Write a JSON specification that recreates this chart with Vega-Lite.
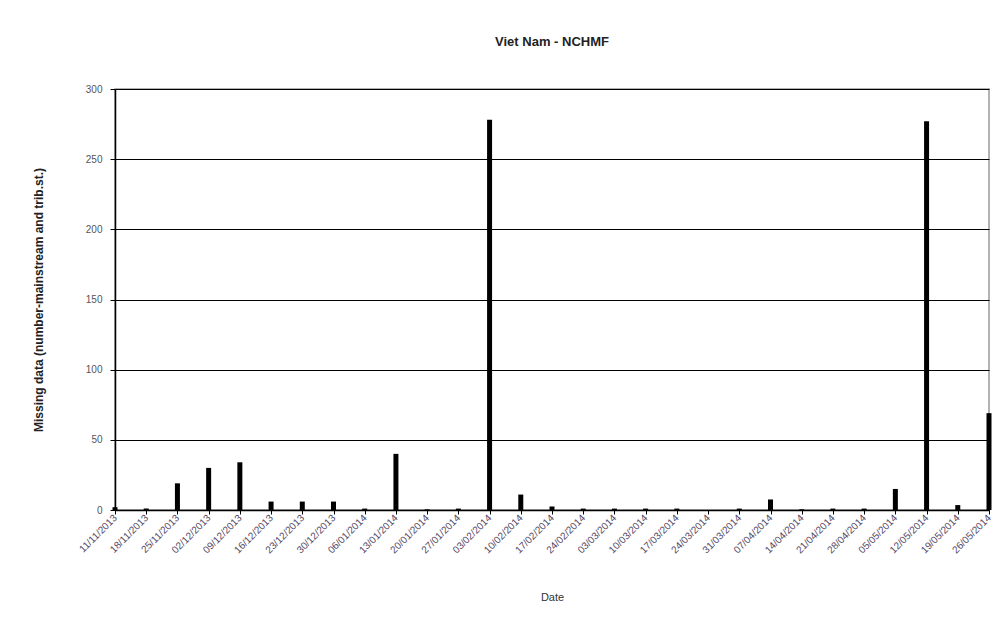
{
  "$schema": "https://vega.github.io/schema/vega-lite/v6.json",
  "autosize": "none",
  "width": 874,
  "height": 421,
  "padding": {"left": 115, "top": 89, "right": 15, "bottom": 116},
  "background": "white",
  "title": {
    "text": "Viet Nam - NCHMF",
    "font": "Liberation Sans Narrow, Liberation Sans, Arial",
    "fontSize": 13,
    "fontWeight": "bold",
    "color": "#222",
    "anchor": "middle",
    "offset": 35
  },
  "data": {
    "values": [
      {"date": "11/11/2013", "missing": 2},
      {"date": "18/11/2013", "missing": 1},
      {"date": "25/11/2013", "missing": 19},
      {"date": "02/12/2013", "missing": 30},
      {"date": "09/12/2013", "missing": 34},
      {"date": "16/12/2013", "missing": 6},
      {"date": "23/12/2013", "missing": 6},
      {"date": "30/12/2013", "missing": 6},
      {"date": "06/01/2014", "missing": 1},
      {"date": "13/01/2014", "missing": 40},
      {"date": "20/01/2014", "missing": 0.5},
      {"date": "27/01/2014", "missing": 1},
      {"date": "03/02/2014", "missing": 278},
      {"date": "10/02/2014", "missing": 11},
      {"date": "17/02/2014", "missing": 2.5},
      {"date": "24/02/2014", "missing": 1},
      {"date": "03/03/2014", "missing": 1},
      {"date": "10/03/2014", "missing": 1},
      {"date": "17/03/2014", "missing": 1},
      {"date": "24/03/2014", "missing": 0},
      {"date": "31/03/2014", "missing": 1},
      {"date": "07/04/2014", "missing": 7.5},
      {"date": "14/04/2014", "missing": 0.5},
      {"date": "21/04/2014", "missing": 1},
      {"date": "28/04/2014", "missing": 1},
      {"date": "05/05/2014", "missing": 15},
      {"date": "12/05/2014", "missing": 277},
      {"date": "19/05/2014", "missing": 3.5},
      {"date": "26/05/2014", "missing": 69}
    ]
  },
  "mark": {"type": "bar", "color": "#000000", "width": 5, "xOffset": 0, "clip": false},
  "encoding": {
    "x": {
      "field": "date",
      "type": "ordinal",
      "sort": null,
      "scale": {"type": "point", "padding": 0},
      "axis": {
        "title": "Date",
        "titleFont": "Liberation Sans, Arial",
        "titleFontSize": 11,
        "titleFontWeight": "normal",
        "titleColor": "#333",
        "titleY": 87,
        "titleBaseline": "middle",
        "labelAngle": -45,
        "labelAlign": "right",
        "labelBaseline": "middle",
        "labelFont": "Liberation Sans, Arial",
        "labelFontSize": 10,
        "labelColor": "#554a66",
        "labelPadding": 2,
        "labelOverlap": false,
        "domainColor": "#000",
        "domainWidth": 1.5,
        "tickColor": "#000",
        "tickSize": 4,
        "grid": false
      }
    },
    "y": {
      "field": "missing",
      "type": "quantitative",
      "scale": {"domain": [0, 300], "nice": false},
      "axis": {
        "title": "Missing data (number-mainstream and trib.st.)",
        "titleFont": "Liberation Sans Narrow, Liberation Sans, Arial",
        "titleFontSize": 12,
        "titleFontWeight": "bold",
        "titleColor": "#222",
        "titleX": -77,
        "titleY": 210.5,
        "titleBaseline": "middle",
        "values": [0, 50, 100, 150, 200, 250, 300],
        "labelFont": "Liberation Sans, Arial",
        "labelFontSize": 10,
        "labelColor": "#555",
        "labelPadding": 8,
        "domainColor": "#000",
        "domainWidth": 1.5,
        "tickColor": "#000",
        "tickSize": 5,
        "grid": true,
        "gridColor": "#000",
        "gridWidth": 1.2,
        "gridOpacity": 1
      }
    }
  },
  "config": {
    "view": {"stroke": "#999", "strokeWidth": 1.5}
  }
}
